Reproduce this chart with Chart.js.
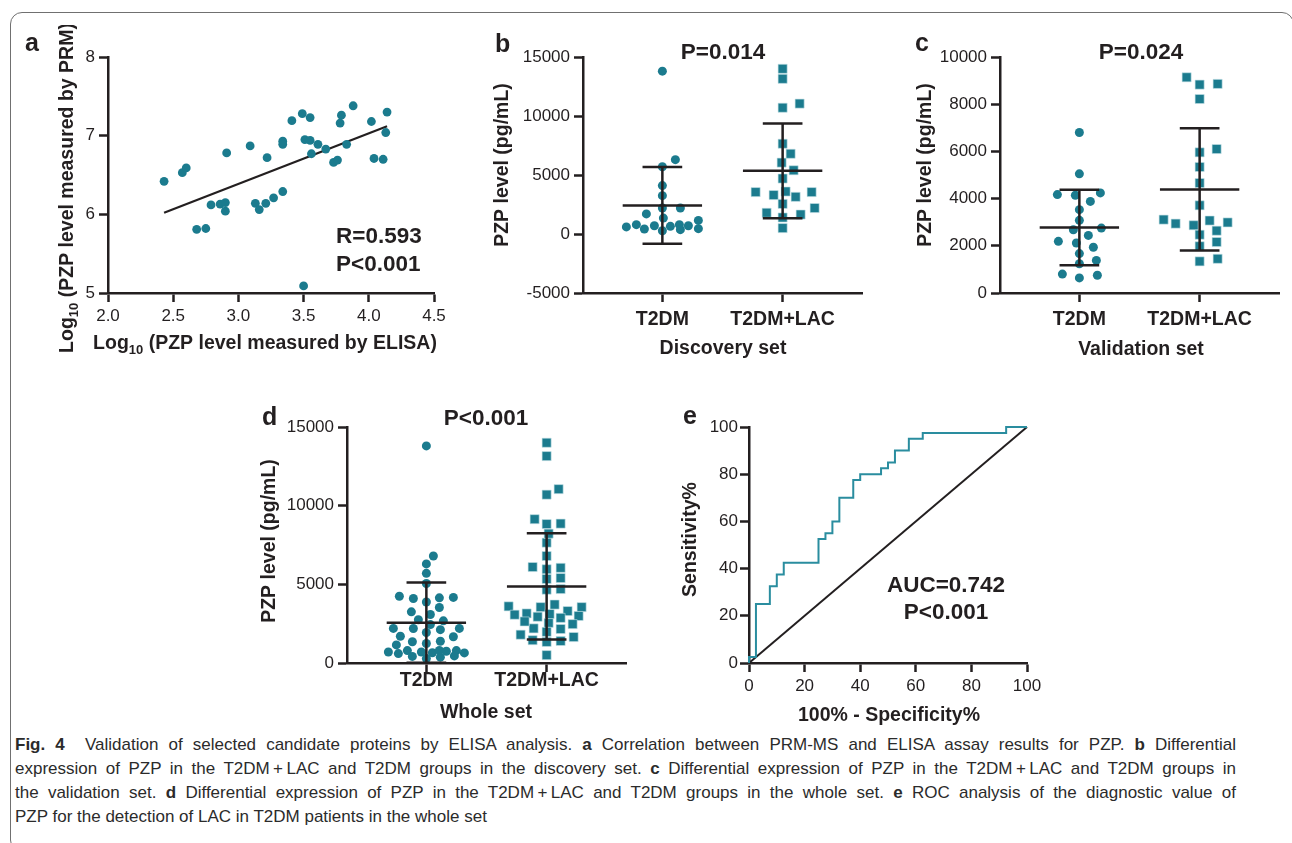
<!DOCTYPE html>
<html>
<head>
<meta charset="utf-8">
<title>PZP ELISA validation</title>
<script src="https://cdn.jsdelivr.net/npm/chart.js@4.4.0/dist/chart.umd.min.js"></script>
<style>
  body { margin: 0; background: #fff; }
  #page { position: relative; width: 1292px; height: 843px; overflow: hidden; font-family: 'Liberation Sans', Arial, sans-serif; }
  #frame { position: absolute; left: 10px; top: 12px; width: 1284px; height: 840px; border: 1.3px solid #707070; border-radius: 12px; box-sizing: border-box; }
  canvas { position: absolute; }
  #caption { position: absolute; left: 15px; top: 733px; font-size: 17px; line-height: 24px; color: #2b2b2b; white-space: nowrap; }
  #caption .full { width: 1221px; text-align: justify; text-align-last: justify; }
</style>
</head>
<body>
<div id="page">
  <div id="frame"></div>
  <canvas id="chartA"></canvas>
  <canvas id="chartB"></canvas>
  <canvas id="chartC"></canvas>
  <canvas id="chartD"></canvas>
  <canvas id="chartE"></canvas>
  <div id="caption">
    <div class="full"><b>Fig. 4</b>&nbsp; Validation of selected candidate proteins by ELISA analysis. <b>a</b> Correlation between PRM-MS and ELISA assay results for PZP. <b>b</b> Differential</div>
    <div class="full">expression of PZP in the T2DM&thinsp;+&thinsp;LAC and T2DM groups in the discovery set. <b>c</b> Differential expression of PZP in the T2DM&thinsp;+&thinsp;LAC and T2DM groups in</div>
    <div class="full">the validation set. <b>d</b> Differential expression of PZP in the T2DM&thinsp;+&thinsp;LAC and T2DM groups in the whole set. <b>e</b> ROC analysis of the diagnostic value of</div>
    <div>PZP for the detection of LAC in T2DM patients in the whole set</div>
  </div>
</div>
<script>
// ---- data ----
const groups = ['T2DM', 'T2DM+LAC'];

// a: log10 PZP, ELISA (x) vs PRM (y)
const elisaLog = [2.43, 2.57, 2.60, 2.68, 2.75, 2.79, 2.86, 2.90, 2.90, 2.91, 3.09, 3.13, 3.16, 3.21, 3.22, 3.27, 3.34, 3.34, 3.34, 3.41,
                  3.49, 3.55, 3.51, 3.55, 3.56, 3.61, 3.67, 3.73, 3.76, 3.78, 3.79, 3.83, 3.88, 4.02, 4.04, 4.11, 4.14, 4.13, 3.50];
const prmLog = [6.42, 6.53, 6.59, 5.81, 5.82, 6.12, 6.13, 6.15, 6.04, 6.78, 6.87, 6.14, 6.06, 6.14, 6.72, 6.21, 6.29, 6.93, 6.89, 7.19,
                7.28, 7.23, 6.95, 6.94, 6.77, 6.89, 6.83, 6.66, 6.69, 7.16, 7.26, 6.89, 7.38, 7.18, 6.71, 6.70, 7.30, 7.04, 5.09];
const fitElisa = [2.43, 4.14];
const fitPrm = [6.02, 7.12];

// b: discovery set, pg/mL
const discT2dm = [13800, 6300, 5700, 4100, 3250, 2200, 2200, 1700, 1350, 1150, 790, 790, 700, 700, 650, 600, 450, 420, 370, 280];
const discLac = [14000, 13150, 11050, 10700, 7650, 6800, 6050, 5400, 4700, 3600, 3550, 3550, 3300, 3150, 2550, 2200, 1800, 1650, 1400, 500];
const discMean = [2420, 5350];
const discSd = [3250, 4010];

// c: validation set, pg/mL
const valT2dm = [6800, 5050, 4240, 4170, 4140, 3880, 3530, 3080, 2750, 2680, 2440, 2190, 2120, 1940, 1670, 1380, 1240, 800, 750, 640];
const valLac = [9140, 8860, 8830, 8220, 6100, 5960, 5340, 4660, 3715, 3110, 3070, 2990, 2940, 2870, 2640, 2470, 2160, 1980, 1450, 1340];
const valMean = [2780, 4390];
const valSd = [1600, 2590];

// d: whole set = discovery + validation
const wholeT2dm = discT2dm.concat(valT2dm);
const wholeLac = discLac.concat(valLac);
const wholeMean = [2560, 4870];
const wholeSd = [2550, 3380];

// e: ROC curve vertices
const rocFpr = [0, 0, 2.5, 2.5, 7.5, 7.5, 10, 10, 12.5, 12.5, 25, 25, 27.5, 27.5, 30, 30, 32.5, 32.5, 37.5, 37.5,
                40, 40, 47.5, 47.5, 50, 50, 52.5, 52.5, 57.5, 57.5, 62.5, 62.5, 92.5, 92.5, 100];
const rocTpr = [0, 2.5, 2.5, 25, 25, 32.5, 32.5, 37.5, 37.5, 42.5, 42.5, 52.5, 52.5, 55, 55, 60, 60, 70, 70, 77.5,
                77.5, 80, 80, 82.5, 82.5, 85, 85, 90, 90, 95, 95, 97.5, 97.5, 100, 100];
const refLine = [0, 100];

// tick values
const aXTicks = [2.0, 2.5, 3.0, 3.5, 4.0, 4.5];
const aYTicks = [5, 6, 7, 8];
const bYTicks = [-5000, 0, 5000, 10000, 15000];
const cYTicks = [0, 2000, 4000, 6000, 8000, 10000];
const dYTicks = [0, 5000, 10000, 15000];
const eTicks = [0, 20, 40, 60, 80, 100];

// ---- styling ----
const INK = '#231f20';
const TEAL = '#1b7b8e';
const ROC_TEAL = '#2a8d9f';
const FAMILY = "'Liberation Sans', Arial, sans-serif";
const TICK_FONT = { family: FAMILY, size: 17 };
const CAT_FONT = { family: FAMILY, size: 19.5, weight: 'bold' };
const TITLE = 'bold 19.5px ' + FAMILY;
const BIG = 'bold 22.5px ' + FAMILY;
const LETTER = 'bold 25px ' + FAMILY;
const SUB = 'bold 13px ' + FAMILY;
const CAT_MIN = -0.66, CAT_MAX = 1.66;

Chart.defaults.font.family = FAMILY;

// draws titles, panel letters and annotations (positions in page pixels)
const panelText = {
  id: 'panelText',
  afterDraw(chart, args, o) {
    const ctx = chart.ctx;
    (o.items || []).forEach(it => {
      const parts = typeof it.text === 'string' ? [[it.text]] : it.text;
      const font = it.font || TITLE;
      ctx.save();
      ctx.fillStyle = INK;
      ctx.textBaseline = 'alphabetic';
      ctx.textAlign = 'left';
      ctx.translate(it.x - o.x, it.y - o.y);
      if (it.rot) ctx.rotate(-Math.PI / 2);
      let w = 0;
      parts.forEach(p => { ctx.font = p[1] ? SUB : font; w += ctx.measureText(p[0]).width; });
      let x = it.align === 'left' ? 0 : -w / 2;
      parts.forEach(p => {
        ctx.font = p[1] ? SUB : font;
        ctx.fillText(p[0], x, p[1] ? 5 : 0);
        x += ctx.measureText(p[0]).width;
      });
      ctx.restore();
    });
  }
};
Chart.register(panelText);

function axis(ticks, o) {
  return {
    type: 'linear',
    min: o.min !== undefined ? o.min : ticks[0],
    max: o.max !== undefined ? o.max : ticks[ticks.length - 1],
    afterBuildTicks: s => { s.ticks = ticks.map(v => ({ value: v })); },
    ticks: { color: INK, font: o.font || TICK_FONT, padding: o.pad, autoSkip: false, maxRotation: 0,
             callback: o.fmt || (v => String(v)) },
    grid: { drawOnChartArea: false, tickLength: 9, tickWidth: 2.5, tickColor: INK },
    border: { color: INK, width: 2.5 }
  };
}

function catAxis(pad) {
  return axis([0, 1], { min: CAT_MIN, max: CAT_MAX, pad, font: CAT_FONT, fmt: v => groups[v] });
}

function fixSize(size) {
  return s => {
    if (s.isHorizontal()) s.height = size; else s.width = size;
    s.paddingLeft = s.paddingRight = s.paddingTop = s.paddingBottom = 0;
  };
}

function lineSet(points, color, width) {
  return { data: points, showLine: true, pointRadius: 0, borderColor: color, borderWidth: width, clip: false };
}

// beeswarm: horizontal offsets (category units). Dots are kept an ellipse (ax, ay px) apart
// while room allows, otherwise squeezed into the band of +-maxOff px.
function swarm(vals, pxX, pxY, ax, ay, maxOff) {
  const done = [];
  const dx = new Array(vals.length);
  vals.map((v, k) => k).sort((p, q) => vals[p] - vals[q]).forEach(k => {
    const y = vals[k] * pxY;
    let best = 0, bestScore = -1;
    for (let s = 0; s <= 2 * maxOff; s++) {
      const off = (s % 2 ? 1 : -1) * Math.ceil(s / 2);
      let score = Infinity;
      done.forEach(p => { score = Math.min(score, ((p.x - off) / ax) ** 2 + ((p.y - y) / ay) ** 2); });
      if (score >= 1) { best = off; break; }
      if (score > bestScore) { bestScore = score; best = off; }
    }
    done.push({ x: best, y });
    dx[k] = best / pxX;
  });
  return dx;
}

function errorBar(i, m, sd) {
  const w = 0.33, c = 0.165;
  return lineSet([
    { x: i - w, y: m }, { x: i + w, y: m }, { x: i, y: null },
    { x: i - c, y: m + sd }, { x: i + c, y: m + sd }, { x: i, y: null },
    { x: i - c, y: m - sd }, { x: i + c, y: m - sd }, { x: i, y: null },
    { x: i, y: m + sd }, { x: i, y: m - sd }
  ], INK, 2.5);
}

function dotSets(lists, mean, sd, area, yTicks, spread) {
  const pxX = (area.r - area.l) / (CAT_MAX - CAT_MIN);
  const pxY = (area.b - area.t) / (yTicks[yTicks.length - 1] - yTicks[0]);
  const sets = lists.map((v, i) => errorBar(i, mean[i], sd[i]));
  lists.forEach((vals, i) => {
    const dx = swarm(vals, pxX, pxY, spread[0], spread[1], spread[2]);
    sets.push({
      data: vals.map((v, k) => ({ x: i + dx[k], y: v })),
      pointStyle: i ? 'rect' : 'circle',
      pointRadius: i ? 6.4 : 4.5,
      backgroundColor: TEAL,
      borderColor: i ? '#c4e0e5' : TEAL,
      borderWidth: i ? 0.6 : 0,
      clip: false
    });
  });
  return sets;
}

function panel(id, box, area, cfg) {
  const cv = document.getElementById(id);
  cv.width = box.w; cv.height = box.h;
  cv.style.left = box.x + 'px'; cv.style.top = box.y + 'px';
  cfg.x.afterFit = fixSize(box.y + box.h - area.b);
  cfg.y.afterFit = fixSize(area.l - box.x);
  return new Chart(cv, {
    type: 'scatter',
    data: { datasets: cfg.datasets },
    options: {
      responsive: false, animation: false, devicePixelRatio: 1,
      layout: { padding: { left: 0, top: area.t - box.y, right: box.x + box.w - area.r, bottom: 0 } },
      scales: { x: cfg.x, y: cfg.y },
      plugins: { legend: { display: false }, tooltip: { enabled: false },
                 panelText: { x: box.x, y: box.y, items: cfg.texts } }
    }
  });
}

// a
panel('chartA', { x: 15, y: 25, w: 455, h: 340 }, { l: 108, t: 57, r: 434, b: 293 }, {
  x: axis(aXTicks, { pad: 4.5, fmt: v => v.toFixed(1) }),
  y: axis(aYTicks, { pad: 4 }),
  datasets: [
    { data: elisaLog.map((v, i) => ({ x: v, y: prmLog[i] })), pointRadius: 4.4, backgroundColor: TEAL, borderWidth: 0, clip: false },
    lineSet(fitElisa.map((v, i) => ({ x: v, y: fitPrm[i] })), INK, 2.2)
  ],
  texts: [
    { text: 'a', x: 25, y: 51, font: LETTER, align: 'left' },
    { text: [['Log'], ['10', 1], [' (PZP level measured by ELISA)']], x: 265, y: 349 },
    { text: [['Log'], ['10', 1], [' (PZP level measured by PRM)']], x: 73, y: 188, rot: 1 },
    { text: 'R=0.593', x: 336, y: 243, font: BIG, align: 'left' },
    { text: 'P<0.001', x: 336, y: 270.5, font: BIG, align: 'left' }
  ]
});

// b
const areaB = { l: 583, t: 57, r: 862, b: 293 };
panel('chartB', { x: 480, y: 25, w: 400, h: 340 }, areaB, {
  x: catAxis(6),
  y: axis(bYTicks, { pad: 4 }),
  datasets: dotSets([discT2dm, discLac], discMean, discSd, areaB, bYTicks, [18, 10, 36]),
  texts: [
    { text: 'b', x: 495, y: 52, font: LETTER, align: 'left' },
    { text: 'P=0.014', x: 723, y: 59, font: BIG },
    { text: 'PZP level (pg/mL)', x: 508, y: 165, rot: 1 },
    { text: 'Discovery set', x: 723, y: 354 }
  ]
});

// c
const areaC = { l: 1000, t: 57, r: 1279, b: 293 };
panel('chartC', { x: 900, y: 25, w: 392, h: 340 }, areaC, {
  x: catAxis(6),
  y: axis(cYTicks, { pad: 4 }),
  datasets: dotSets([valT2dm, valLac], valMean, valSd, areaC, cYTicks, [18, 10, 36]),
  texts: [
    { text: 'c', x: 915, y: 51, font: LETTER, align: 'left' },
    { text: 'P=0.024', x: 1141, y: 59, font: BIG },
    { text: 'PZP level (pg/mL)', x: 931, y: 165, rot: 1 },
    { text: 'Validation set', x: 1141, y: 354.5 }
  ]
});

// d
const areaD = { l: 347, t: 427, r: 626, b: 663 };
panel('chartD', { x: 250, y: 395, w: 390, h: 335 }, areaD, {
  x: catAxis(-3),
  y: axis(dYTicks, { pad: 4 }),
  datasets: dotSets([wholeT2dm, wholeLac], wholeMean, wholeSd, areaD, dYTicks, [14, 9, 38]),
  texts: [
    { text: 'd', x: 262, y: 425, font: LETTER, align: 'left' },
    { text: 'P<0.001', x: 486, y: 425, font: BIG },
    { text: 'PZP level (pg/mL)', x: 275, y: 541, rot: 1 },
    { text: 'Whole set', x: 486, y: 718 }
  ]
});

// e
panel('chartE', { x: 670, y: 395, w: 380, h: 335 }, { l: 749, t: 427, r: 1027, b: 663 }, {
  x: axis(eTicks, { pad: 4 }),
  y: axis(eTicks, { pad: 2 }),
  datasets: [
    lineSet(rocFpr.map((v, i) => ({ x: v, y: rocTpr[i] })), ROC_TEAL, 2),
    lineSet(refLine.map(v => ({ x: v, y: v })), INK, 2)
  ],
  texts: [
    { text: 'e', x: 683, y: 424, font: LETTER, align: 'left' },
    { text: 'Sensitivity%', x: 696, y: 539.5, rot: 1 },
    { text: '100% - Specificity%', x: 889, y: 720.5 },
    { text: 'AUC=0.742', x: 946, y: 591.5, font: BIG },
    { text: 'P<0.001', x: 946, y: 619, font: BIG }
  ]
});
</script>
</body>
</html>
